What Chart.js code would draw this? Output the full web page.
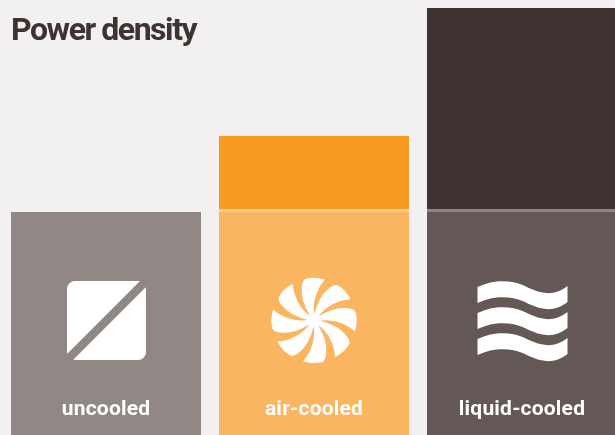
<!DOCTYPE html>
<html><head><meta charset="utf-8">
<script src="https://cdn.jsdelivr.net/npm/chart.js@4"></script>
<style>
html,body{margin:0;padding:0;background:#f2f0f1;width:615px;height:435px;overflow:hidden}
canvas{display:block}
</style></head><body>
<canvas id="c" width="626" height="435"></canvas>
<script>
const categories = ['uncooled','air-cooled','liquid-cooled'];
const baseValues = [55.75,55.75,55.75];
const dividerValues = [0,0.75,0.75];
const boostValues = [0,18.25,50.25];
const baseColors = ['#918785','#f9b55f','#635856'];
const dividerColors = ['#918785','#fbcd8f','#8e8482'];
const boostColors = ['#918785','#f69a20','#3e3331'];
const yMax = 108.75;
const iconLevel = 28.6;
const titleText = 'Power density';
const ink = '#3e3331';
const face = 'Roboto';

function squareIcon(ctx,x,y,bar){
  ctx.fillStyle='#fff';ctx.beginPath();ctx.roundRect(x-39.5,y-39.5,79,79,8);ctx.fill();
  ctx.fillStyle=bar;ctx.beginPath();
  ctx.moveTo(x+36,y-42);ctx.lineTo(x+42,y-36);ctx.lineTo(x-36,y+42);ctx.lineTo(x-42,y+36);ctx.closePath();ctx.fill();
}
function fanIcon(ctx,x,y){
  ctx.save();ctx.translate(x,y-0.2);ctx.fillStyle='#fff';ctx.strokeStyle='#fff';ctx.lineWidth=1.2;ctx.lineJoin='round';
  for(let i=0;i<8;i++){
    ctx.beginPath();ctx.moveTo(-3,-4);
    ctx.bezierCurveTo(-8,-12,-13,-24,-11.5,-34);
    ctx.bezierCurveTo(-11,-38,-10,-40,-8,-41);
    ctx.bezierCurveTo(-3,-42.5,5,-42,10,-40.5);
    ctx.bezierCurveTo(3,-33,-3,-18,0,-5);
    ctx.closePath();ctx.fill();ctx.stroke();ctx.rotate(Math.PI/4);
  }
  ctx.beginPath();ctx.arc(0,0,7,0,Math.PI*2);ctx.fill();ctx.restore();
}
function waveIcon(ctx,x,y){
  ctx.fillStyle='#fff';
  for(const d of [0,26,52]){
    const p=new Path2D('M-45,-33.5 C-28,-42 -10,-40 0,-35.5 C12,-30 28,-21 45,-34.5 L45,-18.5 C28,-5 12,-14 0,-19.5 C-10,-24 -28,-26 -45,-17.5 Z');
    ctx.save();ctx.translate(x,y+d);ctx.fill(p);ctx.restore();
  }
}
const iconPlugin={id:'icons',
  afterLayout(chart){chart.titleBlock.left=11;},
  beforeDraw(chart){chart.ctx.letterSpacing='-1.45px';},
  afterDatasetsDraw(chart){
    const ctx=chart.ctx,xs=chart.scales.x,y=chart.scales.y.getPixelForValue(iconLevel);
    squareIcon(ctx,xs.getPixelForValue(0)+0.5,y,baseColors[0]);
    fanIcon(ctx,xs.getPixelForValue(1),y);
    waveIcon(ctx,xs.getPixelForValue(2)+0.5,y);
    ctx.letterSpacing='0.2px';
  }};
new Chart(document.getElementById('c'),{
  type:'bar',
  data:{labels:categories,datasets:[
    {data:baseValues,backgroundColor:baseColors},
    {data:dividerValues,backgroundColor:dividerColors},
    {data:boostValues,backgroundColor:boostColors}
  ]},
  options:{
    responsive:false,animation:false,
    layout:{padding:{left:2,right:0,top:0,bottom:0}},
    datasets:{bar:{barPercentage:190/208,categoryPercentage:1,borderWidth:0}},
    plugins:{legend:{display:false},tooltip:{enabled:false},
      title:{display:true,text:titleText,align:'start',color:ink,
        font:{family:face,size:32,weight:'700',lineHeight:1.2},
        padding:{top:12.5,bottom:-50.9}}},
    scales:{
      x:{stacked:true,grid:{display:false},border:{display:false},
        afterFit(a){a.height=0;},
        ticks:{z:1,mirror:true,color:'#fff',padding:13,maxRotation:0,font:{family:face,size:21,weight:'700'}}},
      y:{stacked:true,display:false,min:0,max:yMax}
    }
  },
  plugins:[iconPlugin]
});
</script>
</body></html>
